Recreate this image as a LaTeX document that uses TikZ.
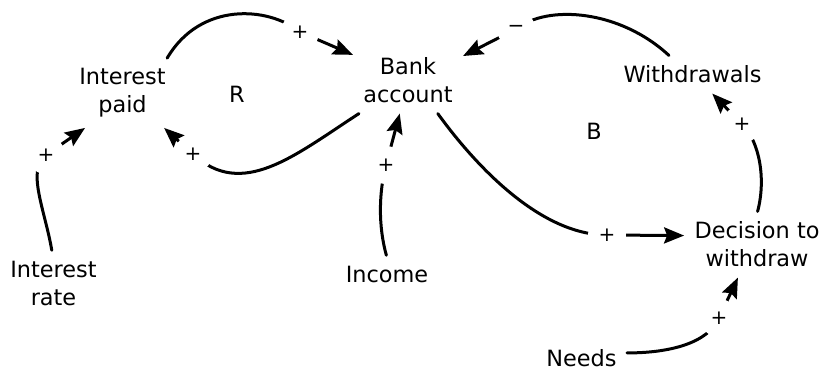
\documentclass[tikz,border=0pt]{standalone}
\usepackage{fontspec}
\setmainfont{DejaVu Sans}
\usetikzlibrary{arrows.meta}
\tikzset{
    % loop variables
    var/.style={
        align=center,
        inner sep=5pt,
        font=\fontsize{11.2}{14}\selectfont
    },
    loopmark/.style={
        var,
        inner sep=0pt
    },
    % link polarity, cuts the link
    pol/.style={
        circle,
        fill=white,
        inner sep=0pt,
        minimum size=19pt,
        font=\fontsize{10}{10}\selectfont
    },
    link/.style={
        -{Stealth[length=10pt,width=8pt,inset=1.5pt]},
        line width=1.5pt,
        line cap=round
    }
}
\begin{document}
\begin{tikzpicture}[x=0.5pt, y=-0.5pt]
    \useasboundingbox (0,0) rectangle (824,372);

    \node[var] (ip) at (122.5,93) {Interest\\paid};
    \node[var] (bank) at (408,80.5) {Bank\\account};
    \node[var] (wd) at (692.5,74.5) {Withdrawals};
    \node[var] (dec) at (757,244.5) {Decision to\\withdraw};
    \node[var] (needs) at (581.5,358.5) {Needs};
    \node[var] (income) at (387,274) {Income};
    \node[var] (ir) at (53.5,283) {Interest\\rate};
    \node[loopmark] (loopR) at (237,94) {R};
    \node[loopmark] (loopB) at (594,131.5) {B};

    \draw[link] (ip.38) .. controls (200,2) and (268,6) .. (300,32) node[pol] {+} -- (bank.155);
    \draw[link] (bank.214) .. controls (295,155) and (242,200) .. (193,154) node[pol] {+} -- (ip.-40);
    \draw[link] (ir.93) .. controls (45,210) and (26,170) .. (46,155) node[pol] {+} -- (ip.223);
    \draw[link] (income.92) .. controls (378,225) and (379,192) .. (386,165) node[pol] {+} -- (bank.256);
    \draw[link] (wd.141) .. controls (620,10) and (548,4) .. (516,29) node[pol] {−} -- (bank.24);
    \draw[link] (bank.-48) .. controls (475,165) and (540,235) .. (607,235) node[pol] {+} -- (dec.173);
    \draw[link] (dec.89) .. controls (766,180) and (760,142) .. (742,124) node[pol] {+} -- (wd.-44);
    \draw[link] (needs.7) .. controls (670,353) and (708,343) .. (719,318) node[pol] {+} -- (dec.240);
\end{tikzpicture}
\end{document}
